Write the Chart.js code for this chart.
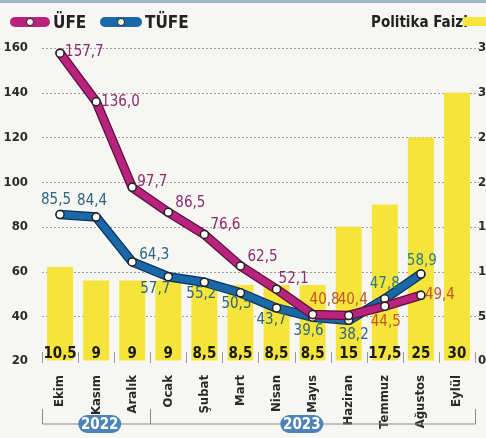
<!DOCTYPE html>
<html><head><meta charset="utf-8">
<script src="https://cdn.jsdelivr.net/npm/chart.js@4.4.0/dist/chart.umd.min.js"></script>
<style>
html,body{margin:0;padding:0;width:486px;height:438px;overflow:hidden;background:#f6f6f3;}
#wrap{position:relative;width:510px;height:438px;}
#topbar{position:absolute;left:0;top:0;width:486px;height:3px;background:#9fb3c9;}
canvas{position:absolute;left:0;top:0;}
.leg{position:absolute;font-family:'Liberation Sans Narrow','DejaVu Sans Condensed',sans-serif;font-weight:bold;color:#222;}
.pill{position:absolute;height:10px;border-radius:5px;}
.pill i{position:absolute;left:50%;top:50%;width:6px;height:6px;margin:-4px 0 0 -4px;border:1px solid #222;border-radius:50%;background:#fff;}
</style></head>
<body><div id="wrap">
<div id="topbar"></div>
<canvas id="c" width="510" height="438"></canvas>
<div class="pill" style="left:10px;top:17px;width:40px;background:#b8237e;"><i></i></div>
<div class="leg" style="left:53px;top:12px;font-size:17px;">ÜFE</div>
<div class="pill" style="left:100px;top:17px;width:42px;background:#1a68a8;"><i></i></div>
<div class="leg" style="left:145px;top:12px;font-size:17px;">TÜFE</div>
<div class="leg" style="left:371px;top:13px;font-size:15px;">Politika Faizi</div>
<div style="position:absolute;left:463px;top:17px;width:30px;height:9px;background:#f5e43a;"></div>
</div>
<script>
const categories = ['Ekim','Kasım','Aralık','Ocak','Şubat','Mart','Nisan','Mayıs','Haziran','Temmuz','Ağustos','Eylül'];
const ufe  = [157.7,136.0,97.7,86.5,76.6,62.5,52.1,40.8,40.4,44.5,49.4,null];
const tufe = [85.5,84.4,64.3,57.7,55.2,50.5,43.7,39.6,38.2,47.8,58.9,null];
const faiz = [10.5,9,9,9,8.5,8.5,8.5,8.5,15,17.5,25,30];
const leftAxis  = {min:20, max:160, step:20};
const rightAxis = {min:0, max:35, step:5};
const years = [{label:'2022', from:0, to:2, at:1.1},{label:'2023', from:3, to:11, at:6.7}];

// label placement (style only)
const ufePos = [[5,-1,'left'],[5,0,'left'],[5,-5,'left'],[7,-9,'left'],[6,-9,'left'],[7,-9,'left'],[2,-10,'left'],[12,-14,'center'],[4,-15,'center'],[1,16,'center'],[4,0,'left']];
const tufePos = [[-4,-14,'center'],[-4,-16,'center'],[7,-7,'left'],[-13,12,'center'],[-3,12,'center'],[-4,11,'center'],[-5,12,'center'],[-4,14,'center'],[5,15,'center'],[0,-15,'center'],[1,-13,'center']];
const ufeLabelColors = ['#8c2b6e','#8c2b6e','#8c2b6e','#8c2b6e','#8c2b6e','#8c2b6e','#8c2b6e','#c2562b','#c2562b','#c2562b','#c2562b'];
const tufeLabelColors = ['#2f6480','#2f6480','#2f6480','#2f6480','#2f6480','#2f6480','#2f6480','#2f6480','#2f6480','#2b7a82','#2b7a82'];

const FONT = "'Liberation Sans Narrow','DejaVu Sans Condensed',sans-serif";
const fmt1 = v => v.toFixed(1).replace('.',',');
const fmtB = v => String(v).replace('.',',');

const outline = {
  id:'outline',
  beforeDatasetsDraw(chart){
    // dotted horizontal grid
    const ctx=chart.ctx, y=chart.scales.y, ca=chart.chartArea;
    ctx.save();
    ctx.strokeStyle='#a0a0a0'; ctx.lineWidth=1; ctx.setLineDash([2,2]);
    for(let v=leftAxis.min+leftAxis.step; v<=leftAxis.max; v+=leftAxis.step){
      const py=Math.round(y.getPixelForValue(v))+0.5;
      ctx.beginPath(); ctx.moveTo(ca.left,py); ctx.lineTo(ca.right+4,py); ctx.stroke();
    }
    ctx.restore();
  },
  beforeDatasetDraw(chart,args){
    const ds = chart.data.datasets[args.index];
    if(ds.type!=='line') return;
    const ctx = chart.ctx, pts = args.meta.data.filter((p,i)=>ds.data[i]!=null);
    ctx.save();
    ctx.lineWidth = ds.borderWidth+2.5; ctx.strokeStyle = ds.outlineColor;
    ctx.lineJoin='round'; ctx.lineCap='round';
    ctx.beginPath();
    pts.forEach((p,i)=> i? ctx.lineTo(p.x,p.y): ctx.moveTo(p.x,p.y));
    ctx.stroke(); ctx.restore();
  }
};

const labels = {
  id:'labels',
  afterDatasetsDraw(chart){
    const ctx = chart.ctx;
    ctx.save();
    ctx.textBaseline='middle';
    const bm = chart.getDatasetMeta(2);
    ctx.font = 'bold 15px '+FONT; ctx.fillStyle='#1a1a1a'; ctx.textAlign='center';
    bm.data.forEach((b,i)=>{ ctx.fillText(fmtB(faiz[i]), b.x, chart.chartArea.bottom-7); });
    ctx.font = '15px '+FONT;
    const draw=(idx,vals,pos,cols)=>{
      const m = chart.getDatasetMeta(idx);
      vals.forEach((v,i)=>{ if(v==null) return; const p=m.data[i];
        ctx.fillStyle=cols[i]; ctx.textAlign=pos[i][2];
        ctx.fillText(fmt1(v), p.x+pos[i][0], p.y+pos[i][1]); });
    };
    draw(0,ufe,ufePos,ufeLabelColors);
    draw(1,tufe,tufePos,tufeLabelColors);
    ctx.restore();
  },
  afterDraw(chart){
    const ctx=chart.ctx, x=chart.scales.x, ca=chart.chartArea;
    const half = (x.getPixelForValue(1)-x.getPixelForValue(0))/2;
    ctx.save();
    ctx.strokeStyle='#9a9a9a'; ctx.lineWidth=1;
    for(let i=0;i<=categories.length;i++){
      const px = Math.round(x.getPixelForValue(i)-half)+0.5;
      ctx.beginPath(); ctx.moveTo(px,ca.bottom-9); ctx.lineTo(px,ca.bottom+2); ctx.stroke();
    }
    ctx.strokeStyle='#8a8a8a';
    const yb=424, yt=409;
    years.forEach(g=>{
      const l=Math.round(x.getPixelForValue(g.from)-half)+0.5, r=Math.round(x.getPixelForValue(g.to)+half)+0.5;
      ctx.beginPath(); ctx.moveTo(l,yt); ctx.lineTo(l,yb); ctx.lineTo(r,yb); ctx.lineTo(r,yt); ctx.stroke();
    });
    years.forEach(g=>{
      const cx=x.getPixelForValue(g.at), w=43, h=18, y0=yb-h/2;
      ctx.fillStyle='#4d84b8';
      ctx.beginPath(); ctx.roundRect(cx-w/2,y0,w,h,9); ctx.fill();
      ctx.fillStyle='#fff'; ctx.font='bold 15px '+FONT; ctx.textAlign='center'; ctx.textBaseline='middle';
      ctx.fillText(g.label,cx,yb+1);
    });
    ctx.restore();
  }
};

new Chart(document.getElementById('c'),{
  data:{
    labels:categories,
    datasets:[
      {type:'line',label:'ÜFE',data:ufe,yAxisID:'y',borderColor:'#b8237e',outlineColor:'#5e0f40',borderWidth:7,
       pointRadius:4,pointBackgroundColor:'#fff',pointBorderColor:'#222',pointBorderWidth:1.5,tension:0,order:1},
      {type:'line',label:'TÜFE',data:tufe,yAxisID:'y',borderColor:'#1a68a8',outlineColor:'#0b3560',borderWidth:7,
       pointRadius:4,pointBackgroundColor:'#fff',pointBorderColor:'#222',pointBorderWidth:1.5,tension:0,order:2},
      {type:'bar',label:'Politika Faizi',data:faiz,yAxisID:'y1',backgroundColor:'#f5e43a',
       barPercentage:0.72,categoryPercentage:1,order:3}
    ]
  },
  options:{
    responsive:false,animation:false,devicePixelRatio:1,
    layout:{padding:{top:48,left:0,right:0,bottom:0}},
    plugins:{legend:{display:false},tooltip:{enabled:false}},
    scales:{
      x:{offset:true,grid:{display:false},border:{display:false},
         ticks:{minRotation:90,maxRotation:90,autoSkip:false,padding:6,color:'#2a2a2a',font:{family:FONT,weight:'bold',size:13}},
         afterFit(s){s.height=77;}},
      y:{position:'left',min:leftAxis.min,max:leftAxis.max,
         ticks:{stepSize:leftAxis.step,padding:6,color:'#2a2a2a',font:{family:FONT,weight:'bold',size:13}},
         grid:{display:false},border:{display:false},
         afterFit(s){s.width=42;}},
      y1:{position:'right',min:rightAxis.min,max:rightAxis.max,
         ticks:{stepSize:rightAxis.step,padding:3,color:'#2a2a2a',font:{family:FONT,weight:'bold',size:13}},
         grid:{drawOnChartArea:false,drawTicks:false},border:{display:false},
         afterFit(s){s.width=35;}}
    }
  },
  plugins:[outline,labels]
});
</script>
</body></html>
